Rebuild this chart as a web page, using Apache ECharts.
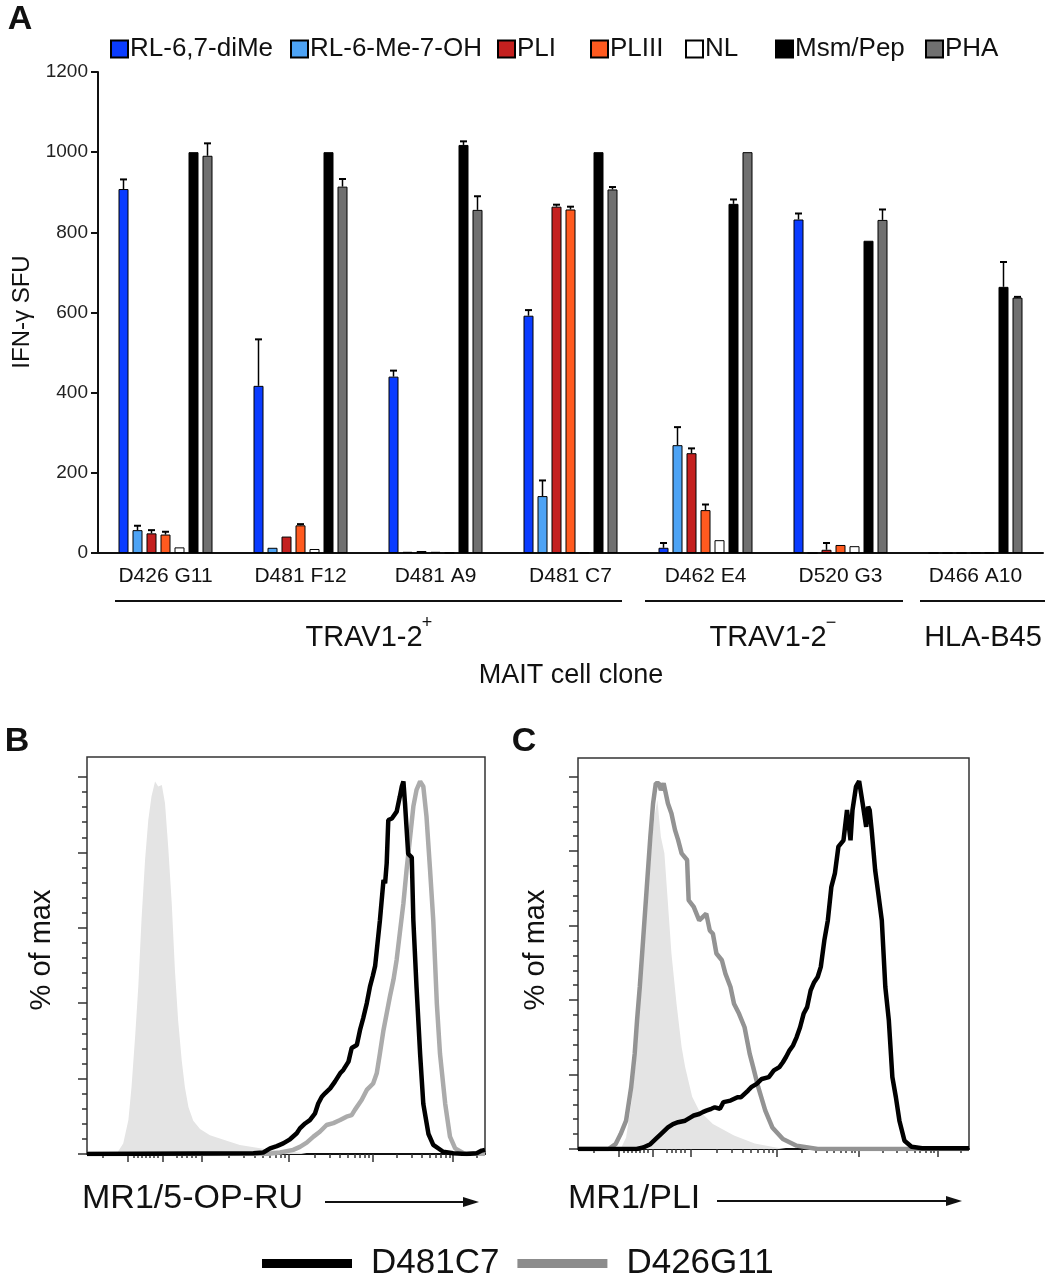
<!DOCTYPE html>
<html><head><meta charset="utf-8">
<script src="https://cdn.jsdelivr.net/npm/echarts@6/dist/echarts.min.js"></script>
<style>html,body{margin:0;padding:0;background:#fff}#c{width:1048px;height:1281px}</style>
</head><body><div id="c"></div>
<script>
// ---------- Panel A data ----------
const clones = ['D426 G11','D481 F12','D481 A9','D481 C7','D462 E4','D520 G3','D466 A10'];
const seriesNames = ['RL-6,7-diMe','RL-6-Me-7-OH','PLI','PLIII','NL','Msm/Pep','PHA'];
const rl67diMe    = [908, 417, 440, 592, 13, 832, 0];
const rl67diMeErr = [24, 116, 15, 14, 12, 15, 0];
const rl6Me7OH    = [57, 13, 3, 142, 269, 0, 0];
const rl6Me7OHErr = [11, 0, 0, 39, 45, 0, 0];
const pli         = [49, 41, 5, 864, 249, 8, 0];
const pliErr      = [8, 0, 0, 5, 12, 17, 0];
const pliii       = [46, 69, 3, 857, 107, 20, 1];
const pliiiErr    = [7, 3, 0, 7, 14, 0, 0];
const nl          = [14, 10, 1, 1, 32, 17, 1];
const nlErr       = [0, 0, 0, 0, 0, 0, 0];
const msmPep      = [1000, 1000, 1018, 1000, 871, 779, 664];
const msmPepErr   = [0, 0, 9, 0, 11, 0, 62];
const pha         = [991, 914, 856, 907, 1000, 831, 637];
const phaErr      = [31, 19, 34, 6, 0, 26, 2];
const yTicksA = [0, 200, 400, 600, 800, 1000, 1200];
const groups = ['TRAV1-2', 'TRAV1-2', 'HLA-B45'];

// ---------- Panels B / C data (x = display channel 0-1000, y = % of max) ----------
const xMajorTicks = [103, 191, 289, 508, 719, 920];
const xMinorTicks = [40, 118, 128, 138, 148, 158, 168, 178, 226, 239, 251, 264, 274,
  355, 393, 421, 442, 459, 474, 487, 498, 572, 609, 635, 655, 672, 686, 699, 709,
  779, 815, 840, 860, 875, 889, 901, 911, 980];
const yMajorTicks = [0, 20, 40, 60, 80, 100];
const yMinorTicks = [4, 8, 12, 16, 24, 28, 32, 36, 44, 48, 52, 56, 64, 68, 72, 76, 84, 88, 92, 96];

const bUnstained = [[74,0],[91,2.8],[104,9],[112,17.9],[121,31.2],[129,44.6],[137,62.2],[146,78.2],[154,88.6],[162,94.8],[171,98.8],[179,97.5],[188,97.9],[196,93],[204,81.5],[213,66.3],[221,48.6],[229,35.4],[238,24.8],[246,17.7],[255,12.4],[267,8.8],[284,6.6],[309,5],[351,3.5],[384,2.4],[435,1.5],[476,0.9],[535,0.35],[552,0]];
const bD481C7 = [[0,0],[418,0.2],[443,0.4],[460,1.5],[477,2.1],[493,2.8],[510,3.9],[527,5.5],[535,6.8],[548,8.1],[560,9],[573,10.8],[581,13.4],[590,15.2],[598,16.1],[611,17.4],[623,19.2],[636,21.4],[644,22.3],[657,24.5],[665,28.1],[678,28.9],[686,32.9],[694,36],[703,40],[711,44.4],[718,47.2],[724,49.9],[736,62],[745,72.7],[749,71.8],[753,77.1],[757,88.6],[766,89],[778,90.8],[786,94.8],[791,97.5],[795,98.8],[799,93],[807,79.6],[816,78.7],[820,61.9],[828,44.2],[837,26.5],[845,13.3],[858,5.3],[870,2.4],[895,0.6],[920,0.2],[954,0],[979,0.2],[992,0.9],[1000,1.1]];
const bD426G11 = [[0,0],[451,0],[485,0.4],[518,1.1],[535,1.9],[552,3],[569,4.6],[585,5.9],[602,7.7],[619,8.2],[636,9],[652,9.9],[665,10.3],[673,11.7],[690,14.3],[703,17],[719,18.7],[728,21.4],[736,26.7],[745,32.9],[753,37.3],[761,41.7],[770,46.2],[778,51.5],[786,58.6],[795,66.5],[803,75.4],[812,84.2],[820,92.2],[828,96.6],[837,98.8],[845,97.5],[853,89.5],[862,75.3],[870,62],[879,39.9],[887,26.5],[900,13.3],[912,4.6],[925,1.5],[946,0.2],[1000,0]];

const cUnstained = [[109,0],[123,3.1],[136,12.1],[150,25.6],[158,39],[167,52.5],[176,65],[185,77.6],[194,88.3],[203,93.7],[212,83.8],[221,79.4],[230,65.9],[239,52.5],[252,39],[265,27.4],[274,22],[292,14],[310,10.3],[345,6.7],[399,3.6],[452,1.5],[506,0.4],[532,0]];
const cD426G11 = [[0,0],[78,0],[96,1.3],[109,4],[123,7.6],[136,16.6],[145,25.6],[151,34.5],[158,43.5],[167,56.9],[176,70.4],[185,83.8],[192,92.8],[199,98.2],[207,98.2],[212,96.4],[219,98.2],[230,92.8],[239,90.1],[248,85.7],[256,83],[265,79.4],[279,77.6],[283,66.8],[296,65],[310,61.4],[328,63.2],[337,58.7],[345,57.8],[354,52.5],[368,50.7],[377,47.1],[390,43.5],[399,39],[412,36.3],[426,32.7],[439,25.6],[448,22],[461,16.6],[479,10.3],[497,5.8],[524,2.7],[559,0.9],[613,0],[1000,0]];
const cD481C7 = [[0,0],[150,0],[167,0.4],[185,1.3],[199,2.7],[212,4],[230,5.8],[243,6.7],[256,7.2],[274,7.6],[288,8.5],[296,9],[310,9.4],[319,9.9],[328,10.3],[341,10.8],[350,11.2],[363,10.8],[372,12.6],[390,13],[408,13.9],[417,13.9],[426,14.8],[435,15.7],[443,16.6],[457,17.5],[470,18.8],[488,19.3],[501,21.1],[515,22],[524,23.3],[532,24.7],[541,26.5],[550,27.8],[559,30],[568,32.7],[577,36.3],[586,38.1],[595,42.6],[604,44.8],[613,46.2],[621,48.9],[630,56],[639,61.4],[648,70.4],[657,74],[666,81.2],[679,82.9],[688,91],[697,82.9],[702,91],[711,97.3],[719,98.8],[728,92.8],[737,86.5],[742,91.9],[746,91],[751,85.7],[760,74.9],[768,68.6],[777,61.4],[786,43.5],[795,34.5],[804,19.3],[813,13.9],[822,7.6],[835,2.2],[853,0.6],[880,0.2],[1000,0.2]];

// ---------- styling ----------
const FONT = "'Liberation Sans', Arial, sans-serif";
const barColors = ['#0a3cff', '#4da3f5', '#c4201f', '#ff5a1f', '#ffffff', '#000000', '#707070'];
const BAR_W = 10, BAR_GAP = 4;

const barVals = [rl67diMe, rl6Me7OH, pli, pliii, nl, msmPep, pha];
const barErrs = [rl67diMeErr, rl6Me7OHErr, pliErr, pliiiErr, nlErr, msmPepErr, phaErr];
const legendLefts = [110, 290, 497, 590, 685, 775, 925];

const chart = echarts.init(document.getElementById('c'), null, {renderer: 'canvas'});

const series = [];
seriesNames.forEach((name, k) => {
  series.push({
    type: 'bar', name, data: barVals[k], xAxisIndex: 0, yAxisIndex: 0,
    barWidth: BAR_W, barGap: (BAR_GAP / BAR_W * 100) + '%',
    itemStyle: {color: barColors[k], borderColor: '#000', borderWidth: 1},
    z: 3
  });
  const off = (k - 3) * (BAR_W + BAR_GAP);
  series.push({
    type: 'custom', name: name + ' err', xAxisIndex: 0, yAxisIndex: 0, z: 2,
    data: barVals[k].map((v, i) => [i, v, barErrs[k][i]]),
    encode: {x: 0, y: 1},
    renderItem: (params, api) => {
      const i = api.value(0), v = api.value(1), e = api.value(2);
      if (!e) return null;
      const b = api.coord([i, v]), t = api.coord([i, v + e]);
      const x = b[0] + off;
      return {type: 'group', children: [
        {type: 'line', shape: {x1: x, y1: b[1], x2: x, y2: t[1]}, style: {stroke: '#000', lineWidth: 1.5}},
        {type: 'line', shape: {x1: x - 3.5, y1: t[1], x2: x + 3.5, y2: t[1]}, style: {stroke: '#000', lineWidth: 2}}
      ]};
    }
  });
});

function histLine(name, data, grid, color) {
  return {type: 'line', name, data, xAxisIndex: grid * 2, yAxisIndex: grid * 2,
    showSymbol: false, symbol: 'none', lineStyle: {color, width: 4.5}, itemStyle: {color}, z: name === 'D481C7' ? 5 : 4,
    animation: false};
}
function histFill(data, grid) {
  return {type: 'line', name: 'unstained', data, xAxisIndex: grid * 2, yAxisIndex: grid * 2,
    showSymbol: false, symbol: 'none', lineStyle: {width: 0}, areaStyle: {color: '#e4e4e4', opacity: 1}, z: 2};
}
series.push(histFill(bUnstained, 1), histLine('D426G11', bD426G11, 1, '#ababab'), histLine('D481C7', bD481C7, 1, '#000'));
series.push(histFill(cUnstained, 2), histLine('D426G11', cD426G11, 2, '#939393'), histLine('D481C7', cD481C7, 2, '#000'));

function histX(grid, major) {
  return {type: 'value', gridIndex: grid, min: 0, max: 1000, position: 'bottom',
    axisLine: {show: major, onZero: false, lineStyle: {color: '#111', width: 2}},
    axisTick: {show: true, length: major ? 8 : 4, lineStyle: {color: '#333', width: 1.5}, customValues: major ? xMajorTicks : xMinorTicks},
    axisLabel: {show: false, customValues: major ? xMajorTicks : xMinorTicks}, splitLine: {show: false}};
}
function histY(grid, major, max) {
  return {type: 'value', gridIndex: grid, min: 0, max, position: 'left',
    axisLine: {show: false},
    axisTick: {show: true, length: major ? 9 : 5, lineStyle: {color: '#333', width: 1.5}, customValues: major ? yMajorTicks : yMinorTicks},
    axisLabel: {show: false, customValues: major ? yMajorTicks : yMinorTicks}, splitLine: {show: false}};
}

const legends = seriesNames.map((n, k) => ({
  data: [{name: n, icon: 'rect'}], left: legendLefts[k], top: 36, padding: 0, itemWidth: 17, itemHeight: 17, itemGap: 0,
  selectedMode: false, textStyle: {fontSize: 26, color: '#111', fontFamily: FONT, padding: [0, 0, 0, -3]}
}));
legends.push({
  data: [{name: 'D481C7', icon: 'rect', itemStyle: {color: '#000', borderWidth: 0}},
         {name: 'D426G11', icon: 'rect', itemStyle: {color: '#8c8c8c', borderWidth: 0}}],
  left: 262, top: 1246, padding: 0, itemWidth: 90, itemHeight: 9, itemGap: 18, selectedMode: false,
  lineStyle: {width: 0},
  textStyle: {fontSize: 35, color: '#111', fontFamily: FONT, padding: [0, 0, 0, 14]}
});

const txt = (x, y, text, size, extra) => Object.assign({type: 'text', x, y,
  style: Object.assign({text, font: size + 'px ' + FONT, fill: '#111', textAlign: 'center', textVerticalAlign: 'middle'}, extra || {})});
const hline = (x1, x2, y, w) => ({type: 'line', shape: {x1, y1: y, x2, y2: y}, style: {stroke: '#111', lineWidth: w || 2}});
const arrow = (x1, x2, y) => ([hline(x1, x2 - 14, y, 2),
  {type: 'polygon', shape: {points: [[x2, y], [x2 - 16, y - 5], [x2 - 16, y + 5]]}, style: {fill: '#111'}}]);

const graphic = [
  txt(20, 20, 'A', 34, {font: 'bold 34px ' + FONT}),
  txt(17, 742, 'B', 34, {font: 'bold 34px ' + FONT}),
  txt(524, 742, 'C', 34, {font: 'bold 34px ' + FONT}),
  hline(115, 622, 601), hline(645, 903, 601), hline(920, 1045, 601),
  txt(364, 638, groups[0], 29), txt(427, 623, '+', 18),
  txt(768, 638, groups[1], 29), txt(831, 623, '\u2212', 18),
  txt(983, 638, groups[2], 29),
  txt(571, 676, 'MAIT cell clone', 27),
  Object.assign(txt(22, 312, 'IFN-\u03b3 SFU', 24), {rotation: Math.PI / 2}),
  Object.assign(txt(42, 950, '% of max', 29), {rotation: Math.PI / 2}),
  Object.assign(txt(536, 950, '% of max', 29), {rotation: Math.PI / 2}),
  txt(82, 1199, 'MR1/5-OP-RU', 34, {textAlign: 'left'}),
  ...arrow(325, 479, 1202),
  txt(568, 1199, 'MR1/PLI', 34, {textAlign: 'left'}),
  ...arrow(717, 962, 1201)
];

chart.setOption({
  animation: false,
  textStyle: {fontFamily: FONT},
  legend: legends,
  grid: [
    {left: 98, top: 72, width: 945, height: 481},
    {left: 87, top: 757, width: 398, height: 397, show: true, borderColor: '#333', borderWidth: 1.5, backgroundColor: 'transparent'},
    {left: 578, top: 758, width: 391, height: 391, show: true, borderColor: '#333', borderWidth: 1.5, backgroundColor: 'transparent'}
  ],
  xAxis: [
    {type: 'category', gridIndex: 0, data: clones,
      axisLine: {lineStyle: {color: '#111', width: 2}},
      axisTick: {alignWithLabel: true, length: 7, lineStyle: {width: 2, color: '#111'}},
      axisLabel: {fontSize: 21, color: '#111', margin: 13, fontFamily: FONT}},
    {type: 'category', gridIndex: 0, data: clones, show: false},
    histX(1, true), histX(1, false),
    histX(2, true), histX(2, false)
  ],
  yAxis: [
    {type: 'value', gridIndex: 0, min: 0, max: 1200, interval: 200,
      axisLine: {show: true, lineStyle: {color: '#111', width: 2}},
      axisTick: {show: true, length: 7, lineStyle: {width: 2, color: '#111'}},
      axisLabel: {fontSize: 19, color: '#222', margin: 10, fontFamily: FONT, formatter: v => String(v)},
      splitLine: {show: false}},
    {type: 'value', gridIndex: 0, min: 0, max: 1200, show: false},
    histY(1, true, 105.3), histY(1, false, 105.3),
    histY(2, true, 105), histY(2, false, 105)
  ],
  series,
  graphic
});
</script></body></html>
